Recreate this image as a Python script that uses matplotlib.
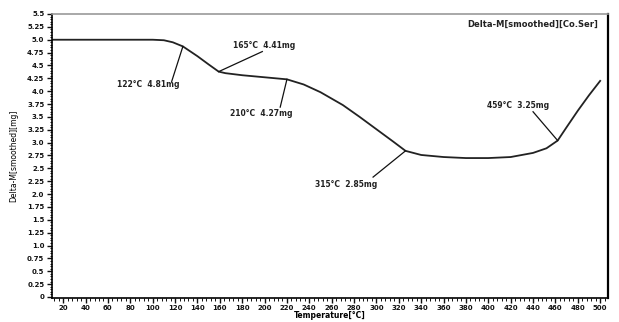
import matplotlib
matplotlib.use("Agg")
import matplotlib.pyplot as plt
from matplotlib.ticker import MultipleLocator, FixedLocator

# Data
temperature = [10, 40, 80, 100, 110, 118, 127, 140, 150, 159, 165, 180, 200, 220,
               235, 250, 270, 285, 300, 315, 326, 340, 360, 380, 400, 420, 440,
               452, 462, 470, 480, 490, 500]
mass = [5.0, 5.0, 5.0, 5.0, 4.99, 4.95, 4.87, 4.68, 4.52, 4.38, 4.35, 4.31, 4.27, 4.23,
        4.13, 3.98, 3.73, 3.5, 3.26, 3.02, 2.84, 2.76, 2.72, 2.70, 2.70, 2.72, 2.80,
        2.89, 3.04, 3.3, 3.62, 3.92, 4.2]

ann_labels = ["122°C  4.81mg", "165°C  4.41mg", "210°C  4.27mg",
              "315°C  2.85mg", "459°C  3.25mg"]
ann_points = [(127, 4.87), (159, 4.38), (220, 4.23), (326, 2.84), (462, 3.04)]
ann_text = [(96, 4.12), (200, 4.88), (197, 3.56), (273, 2.19), (427, 3.73)]
ann_line_end = [(117, 4.19), (198, 4.77), (214, 3.69), (297, 2.33), (440, 3.60)]

x_ticks = list(range(20, 501, 20))
y_ticks = [5.5, 5.25, 5.0, 4.75, 4.5, 4.25, 4.0, 3.75, 3.5, 3.25, 3.0, 2.75, 2.5,
           2.25, 2.0, 1.75, 1.5, 1.25, 1.0, 0.75, 0.5, 0.25, 0]
y_tick_labels = ["5.5", "5.25", "5.0", "4.75", "4.5", "4.25", "4.0", "3.75", "3.5",
                 "3.25", "3.0", "2.75", "2.5", "2.25", "2.0", "1.75", "1.5", "1.25",
                 "1.0", "0.75", "0.5", "0.25", "0"]

title = "Delta-M[smoothed][Co.Ser]"
xlabel = "Temperature[°C]"
ylabel = "Delta-M[smoothed][mg]"

plt.rcParams['font.family'] = ['DejaVu Sans']
fig = plt.figure(figsize=(6.19, 3.22), dpi=100)
ax = fig.add_axes([52/619, 1-298/322, (608-52)/619, (298-14)/322])

ax.plot(temperature, mass, color="#222222", lw=1.3)

for lab, pt, tp, le in zip(ann_labels, ann_points, ann_text, ann_line_end):
    ax.plot([pt[0], le[0]], [pt[1], le[1]], color="#111111", lw=0.9)
    ax.text(tp[0], tp[1], lab, fontsize=5.5, fontweight="bold", ha="center",
            va="center", color="#222222")

ax.text(0.982, 0.965, title, transform=ax.transAxes, ha="right", va="center",
        fontsize=6, fontweight="bold", color="#222222")

ax.set_xlim(10, 507)
ax.set_ylim(-0.02, 5.5)

ax.xaxis.set_major_locator(FixedLocator(x_ticks))
ax.set_xticklabels([str(v) for v in x_ticks])
ax.xaxis.set_minor_locator(MultipleLocator(4))
ax.yaxis.set_major_locator(FixedLocator(y_ticks))
ax.set_yticklabels(y_tick_labels)
ax.yaxis.set_minor_locator(MultipleLocator(0.05))

ax.tick_params(axis="both", which="major", direction="out", length=3.5, width=1,
               labelsize=5, colors="#111111", pad=2)
ax.tick_params(axis="x", which="major", pad=1.5)
ax.tick_params(axis="both", which="minor", direction="out", length=1.8, width=0.7,
               colors="#111111")
for t in ax.get_xticklabels() + ax.get_yticklabels():
    t.set_fontweight("bold")

ax.set_xlabel(xlabel, fontsize=5.5, fontweight="bold", labelpad=0)
ax.set_ylabel(ylabel, fontsize=5.5, labelpad=6)

ax.spines["top"].set_color("#999999")
ax.spines["top"].set_linewidth(1.2)
ax.spines["right"].set_color("#000000")
ax.spines["right"].set_linewidth(1.6)
ax.spines["left"].set_linewidth(1.2)
ax.spines["bottom"].set_linewidth(1.2)

fig.savefig("out.png", dpi=100)
